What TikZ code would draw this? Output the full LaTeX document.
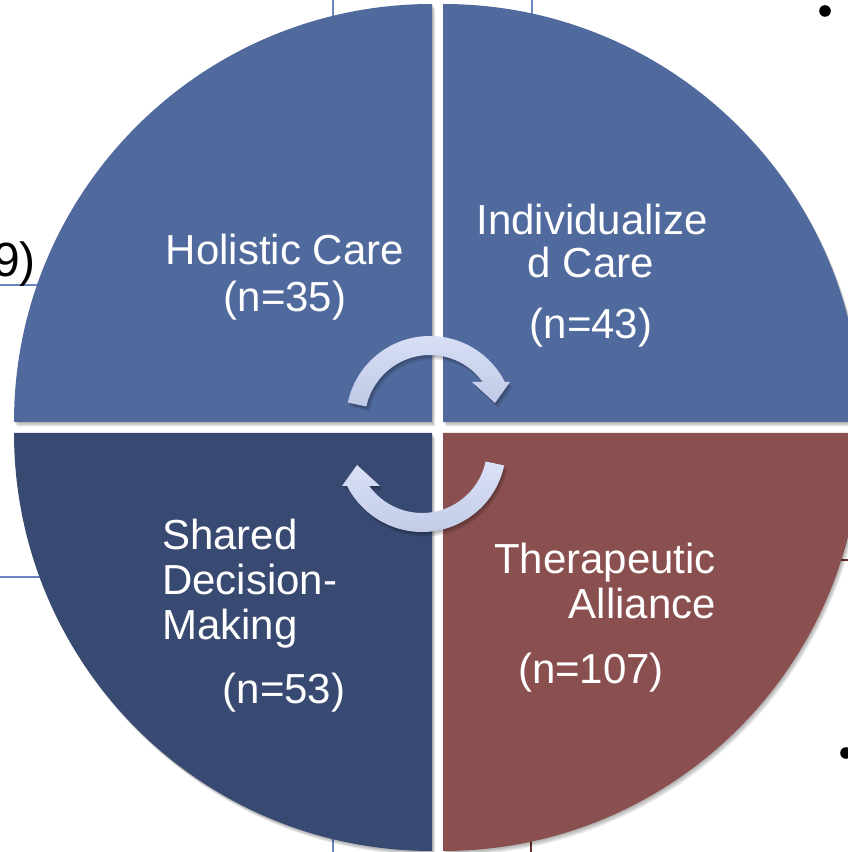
\documentclass[tikz,border=0pt]{standalone}
\usepackage{fontspec}
\setmainfont{Liberation Sans}
\definecolor{topblue}{HTML}{516A9E}
\definecolor{darkblue}{HTML}{384A72}
\definecolor{redbrown}{HTML}{8A504F}
\definecolor{gridblue}{HTML}{6A86C4}
\definecolor{gridred}{HTML}{6B2E2E}
\definecolor{arrowtop}{HTML}{DAE1F8}
\definecolor{arrowbot}{HTML}{C0C9E5}
\begin{document}
\begin{tikzpicture}[x=1pt,y=1pt,
  lbl/.style={text=white,inner sep=0pt,font=\fontsize{42}{48}\selectfont},
  blk/.style={text=black,inner sep=0pt,font=\fontsize{48}{54}\selectfont},
  gridln/.style={draw=gridblue,line width=1.3pt},
  gridrd/.style={draw=gridred,line width=1.3pt},
  shad/.style={fill=black,opacity=0.10},
  arrowfill/.style={top color=arrowtop,bottom color=arrowbot,draw=none}]
\useasboundingbox (0,0) rectangle (848,852);
\fill[white] (0,0) rectangle (848,852);
% background table lines
\draw[gridln] (333,852) -- (333,0);
\draw[gridln] (532,852) -- (532,30);
\draw[gridrd] (531,30) -- (531,0);
\draw[gridln] (0,567) -- (120,567);
\draw[gridln] (0,275) -- (120,275);
\draw[gridrd] (838,292) -- (848,292);
% gaps of the circle stay white
\fill[white] (14,419) rectangle (848,430);
\fill[white] (432,0) rectangle (443,852);
% text behind on the left
\node[blk,anchor=base east] (nine) at (36,575) {9)};
% bullets
\fill[black] (825,841) circle (5.8);
\fill[black] (846,99) circle (5.8);
% shadows of quadrants
\foreach \dx/\dy in {1/-1.5,2/-3,3/-4.5}{
  \begin{scope}[shift={(\dx,\dy)}]
  \fill[shad] (432,430) -- (14,430) arc[start angle=180,end angle=90,radius=418] -- cycle;
  \fill[shad] (443,430) -- (443,848) arc[start angle=90,end angle=0,radius=418] -- cycle;
  \fill[shad] (432,419) -- (14,419) arc[start angle=180,end angle=270,radius=418] -- cycle;
  \fill[shad] (443,419) -- (443,1) arc[start angle=270,end angle=360,radius=418] -- cycle;
  \end{scope}
}
% quadrants
\fill[topblue] (432,430) -- (14,430) arc[start angle=180,end angle=90,radius=418] -- cycle;
\fill[topblue] (443,430) -- (443,848) arc[start angle=90,end angle=0,radius=418] -- cycle;
\fill[darkblue] (432,419) -- (14,419) arc[start angle=180,end angle=270,radius=418] -- cycle;
\fill[redbrown] (443,419) -- (443,1) arc[start angle=270,end angle=360,radius=418] -- cycle;
% arrow shadows
\foreach \dx/\dy in {1/-1.5,2/-3,3/-4.5}{
  \begin{scope}[shift={(\dx,\dy)}]
  \fill[shad] (347.83,449.46) arc[start angle=168,end angle=26.9,radius=84]
     -- (510,470) -- (495,449) -- (472,470) -- (482.7,470)
     arc[start angle=35.8,end angle=168,radius=65] -- cycle;
  \fill[shad] (504.17,386.54) arc[start angle=348,end angle=206.9,radius=84]
     -- (342,366) -- (357,387) -- (380,366) -- (369.3,366)
     arc[start angle=215.8,end angle=348,radius=65] -- cycle;
  \end{scope}
}
% arrows
\shade[arrowfill] (347.83,449.46) arc[start angle=168,end angle=26.9,radius=84]
   -- (510,470) -- (495,449) -- (472,470) -- (482.7,470)
   arc[start angle=35.8,end angle=168,radius=65] -- cycle;
\shade[arrowfill] (504.17,386.54) arc[start angle=348,end angle=206.9,radius=84]
   -- (342,366) -- (357,387) -- (380,366) -- (369.3,366)
   arc[start angle=215.8,end angle=348,radius=65] -- cycle;
% labels
\node[lbl,anchor=base] (hc1) at (285,587) {Holistic Care};
\node[lbl,anchor=base] (hc2) at (285,540) {(n=35)};
\node[lbl,anchor=base] (ic1) at (592,617) {Individualize};
\node[lbl,anchor=base] (ic2) at (591,574) {d Care};
\node[lbl,anchor=base] (ic3) at (591,513) {(n=43)};
\node[lbl,anchor=base west] (sd1) at (162,302) {Shared};
\node[lbl,anchor=base west] (sd2) at (162,257) {Decision-};
\node[lbl,anchor=base west] (sd3) at (162,212) {Making};
\node[lbl,anchor=base] (sd4) at (284,148) {(n=53)};
\node[lbl,anchor=base east] (ta1) at (716,278) {Therapeutic};
\node[lbl,anchor=base east] (ta2) at (716,233) {Alliance};
\node[lbl,anchor=base] (ta3) at (591,168) {(n=107)};
\end{tikzpicture}
\end{document}
